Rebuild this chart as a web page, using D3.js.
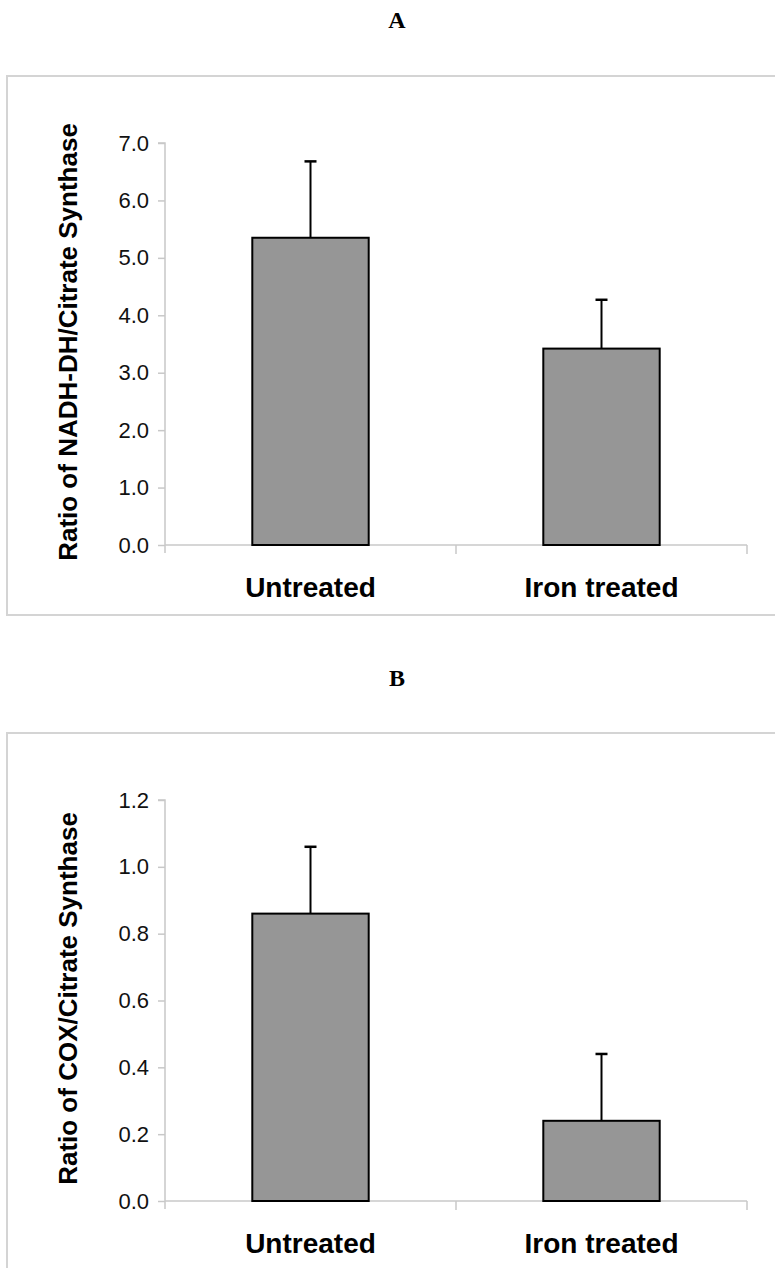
<!DOCTYPE html>
<html><head><meta charset="utf-8">
<script src="https://cdn.jsdelivr.net/npm/d3@7"></script>
<style>body{margin:0;background:#fff}svg{display:block}</style>
</head><body>
<svg id="chart" width="775" height="1268"></svg>
<script>
const categories = ["Untreated", "Iron treated"];
const panelTitles = ["A", "B"];
const yLabels = ["Ratio of NADH-DH/Citrate Synthase", "Ratio of COX/Citrate Synthase"];
const valuesA = [5.35, 3.42];
const errorsA = [1.33, 0.85];
const valuesB = [0.86, 0.24];
const errorsB = [0.20, 0.20];
const ticksA = [0, 1, 2, 3, 4, 5, 6, 7];
const ticksB = [0, 0.2, 0.4, 0.6, 0.8, 1.0, 1.2];
const maxA = 7, maxB = 1.2;

const svg = d3.select("#chart");
const panels = [
  {title: panelTitles[0], ylab: yLabels[0], vals: valuesA, errs: errorsA, ticks: ticksA, max: maxA,
   titleY: 28, boxTop: 76, boxBottom: 615, yTop: 143, yBot: 545, catY: 597},
  {title: panelTitles[1], ylab: yLabels[1], vals: valuesB, errs: errorsB, ticks: ticksB, max: maxB,
   titleY: 686, boxTop: 733, boxBottom: 1300, yTop: 800, yBot: 1201, catY: 1253}
];
const xLeft = 165, xRight = 747;

panels.forEach(p => {
  const g = svg.append("g");
  g.append("text").attr("x", 397).attr("y", p.titleY).attr("text-anchor", "middle")
    .attr("font-family", "Liberation Serif, Times New Roman, serif").attr("font-weight", "bold")
    .attr("font-size", 24).text(p.title);
  g.append("rect").attr("x", 7).attr("y", p.boxTop).attr("width", 800).attr("height", p.boxBottom - p.boxTop)
    .attr("fill", "none").attr("stroke", "#d4d4d4").attr("stroke-width", 2);

  const x = d3.scaleBand().domain(categories).range([xLeft, xRight]).paddingInner(0).paddingOuter(0);
  const y = d3.scaleLinear().domain([0, p.max]).range([p.yBot, p.yTop]);

  // y axis
  const ya = g.append("g").attr("transform", `translate(${xLeft},0)`)
    .call(d3.axisLeft(y).tickValues(p.ticks).tickSize(7).tickPadding(9).tickFormat(d3.format(".1f")));
  ya.select(".domain").attr("stroke", "#c8c8c8").attr("stroke-width", 1.5).attr("d", `M-7,${p.yTop}H0V${p.yBot + 8}`);
  ya.selectAll(".tick line").attr("stroke", "#c8c8c8").attr("stroke-width", 1.5);
  ya.selectAll(".tick text").attr("font-family", "Liberation Sans, Arial, sans-serif").attr("font-size", 22).attr("fill", "#111");

  // x axis
  const xa = g.append("g").attr("transform", `translate(0,${p.yBot})`)
    .call(d3.axisBottom(x).tickSize(0).tickFormat(""));
  xa.select(".domain").attr("stroke", "#c8c8c8").attr("stroke-width", 1.5).attr("d", `M${xLeft},0H${xRight}`);
  const bounds = [x.bandwidth() + xLeft, xRight];
  g.selectAll(".xt").data(bounds).join("line")
    .attr("x1", d => d).attr("x2", d => d).attr("y1", p.yBot).attr("y2", p.yBot + 9)
    .attr("stroke", "#c8c8c8").attr("stroke-width", 1.5);

  const bw = x.bandwidth() * 0.4;
  const data = categories.map((c, i) => ({c, v: p.vals[i], e: p.errs[i]}));
  const cx = d => x(d.c) + x.bandwidth() / 2;

  // error bars
  g.selectAll(".err").data(data).join("line")
    .attr("x1", cx).attr("x2", cx).attr("y1", d => y(d.v)).attr("y2", d => y(d.v + d.e))
    .attr("stroke", "#000").attr("stroke-width", 2);
  g.selectAll(".cap").data(data).join("line")
    .attr("x1", d => cx(d) - 6).attr("x2", d => cx(d) + 6).attr("y1", d => y(d.v + d.e)).attr("y2", d => y(d.v + d.e))
    .attr("stroke", "#000").attr("stroke-width", 2.5);

  // bars
  g.selectAll(".bar").data(data).join("rect")
    .attr("x", d => cx(d) - bw / 2).attr("width", bw)
    .attr("y", d => y(d.v)).attr("height", d => y(0) - y(d.v))
    .attr("fill", "#969696").attr("stroke", "#000").attr("stroke-width", 2);

  // category labels
  g.selectAll(".cat").data(data).join("text")
    .attr("x", cx).attr("y", p.catY).attr("text-anchor", "middle")
    .attr("font-family", "Liberation Sans, Arial, sans-serif").attr("font-weight", "bold").attr("font-size", 28)
    .text(d => d.c);

  // y label
  const ymid = (p.yTop + p.yBot) / 2 - 2;
  g.append("text").attr("transform", `translate(77,${ymid}) rotate(-90)`).attr("text-anchor", "middle")
    .attr("font-family", "Liberation Sans, Arial, sans-serif").attr("font-weight", "bold").attr("font-size", 26)
    .text(p.ylab);
});
</script>
</body></html>
